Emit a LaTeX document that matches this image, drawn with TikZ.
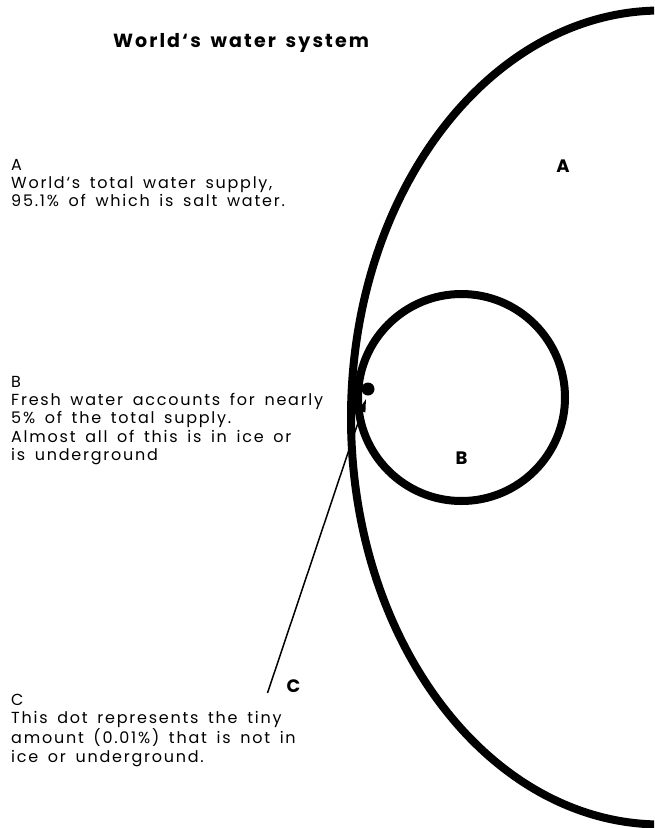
\documentclass[tikz,border=0pt]{standalone}
\usepackage{fontspec}
\setmainfont{Poppins}[LetterSpace=11,WordSpace=1.6]
\usetikzlibrary{arrows.meta}

\begin{document}
\begin{tikzpicture}[x=1pt,y=-1pt,
  ring/.style={line width=8pt},
  tag/.style={font=\bfseries\fontsize{18}{18}\selectfont,inner sep=0pt},
  note/.style={anchor=north west,align=left,inner sep=0pt,font=\fontsize{16}{18.3}\selectfont}]
\useasboundingbox (0,0) rectangle (654,828);
\clip (0,0) rectangle (654,828);
\node[font=\bfseries\fontsize{19}{19}\selectfont] (title) at (241,43) {World`s water system};
% the two reservoirs
\draw[ring] (661,417.5) ellipse[x radius=310,y radius=407];
\draw[ring] (461.5,397.5) circle[radius=103.5];
\node[circle,fill,inner sep=0pt,minimum size=13pt] (dot) at (368,389) {};
\node[tag] (tagA) at (563,166) {A};
\node[tag] (tagB) at (461.5,458.5) {B};
\node[tag] (tagC) at (293.5,686.5) {C};
% pointer to the dot
\coordinate (cfoot) at (267.5,693);
\coordinate (ctip) at (366,399);
\draw[line width=1.5pt,-{Triangle[length=13pt,width=7pt]}] (cfoot) -- (ctip);
% notes on the left
\node[note] (noteA) at (11,159) {A\\World`s total water supply,\\95.1\% of which is salt water.};
\node[note] (noteB) at (11,376) {B\\Fresh water accounts for nearly\\5\% of the total supply.\\Almost all of this is in ice or\\is underground};
\node[note] (noteC) at (11,694) {C\\This dot represents the tiny\\amount (0.01\%) that is not in\\ice or underground.};
\end{tikzpicture}
\end{document}
